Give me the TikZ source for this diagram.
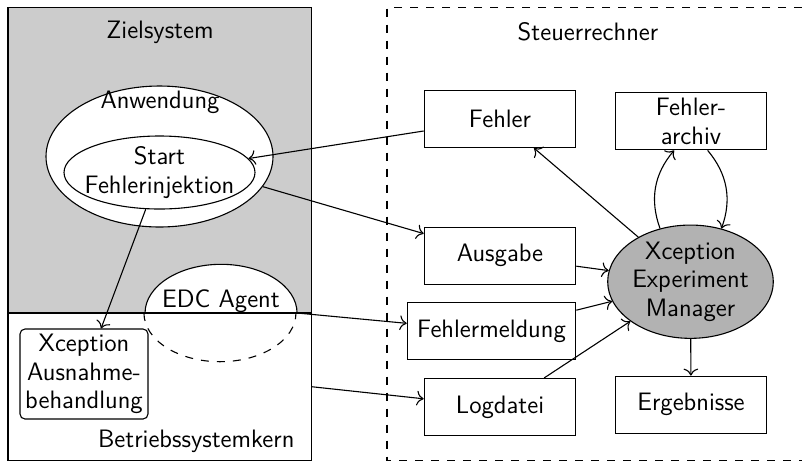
\documentclass[tikz,border=0pt]{standalone}
\usepackage{fontspec}
\usetikzlibrary{shapes.geometric,arrows.meta}
\begin{document}
\begin{tikzpicture}[x=0.5pt,y=-0.5pt, line width=0.55pt,
  >={To[scale=1.25]},
  every node/.style={font=\sffamily\fontsize{12.6}{14.2}\selectfont},
  box/.style={draw, rectangle, minimum width=75.75pt, minimum height=28.5pt, inner sep=0pt, align=center},
  ell/.style={draw, ellipse, inner sep=0pt, align=center},
  lbl/.style={inner sep=0pt, align=center},
  dsh/.style={dash pattern=on 4pt off 4pt},
  arr/.style={->},
]
\useasboundingbox (0,0) rectangle (802,462);
% Steuerrechner frame
\draw[dsh] (802,7.5) -- (387,7.5) -- (387,460.5) -- (802,460.5);
% Zielsystem panel
\node[draw, fill=gray!40, minimum width=151.75pt, minimum height=152.75pt, inner sep=0pt] (ziel) at (159.75,160.25) {};
\node[ellipse, minimum width=76pt, minimum height=48.7pt, inner sep=0pt] (edc) at (220.5,313) {};
\fill[white] (edc.east) arc[start angle=0, end angle=180, x radius=38pt, y radius=24.35pt];
\node[draw, minimum width=151.75pt, minimum height=73.75pt, inner sep=0pt] (kern) at (159.75,386.75) {};
\draw (edc.east) arc[start angle=0, end angle=180, x radius=38pt, y radius=24.35pt];
\draw[dsh] (edc.west) arc[start angle=180, end angle=360, x radius=38pt, y radius=24.35pt];
\node[lbl] (edctext) at (221,301) {EDC Agent};
\node[lbl] (zieltext) at (160,32) {Zielsystem};
\node[lbl, anchor=east] (kerntext) at (295,441) {Betriebssystemkern};
\node[lbl] (steuertext) at (588,32) {Steuerrechner};
% Anwendung
\node[ell, fill=white, minimum width=113.5pt, minimum height=70.5pt] (anw) at (159.5,156.5) {};
\node[lbl] (anwtext) at (160,102) {Anwendung};
\node[ell, minimum width=95.5pt, minimum height=36.5pt] (start) at (159.5,172.5) {};
\node[lbl] (starttext) at (159.5,172.5) {Start\\Fehlerinjektion};
\node[draw, rounded corners=2.5pt, minimum width=64pt, minimum height=45pt, inner sep=0pt, align=center] (ausn) at (84,374) {Xception\\Ausnahme-\\behandlung};
% Steuerrechner contents
\node[box] (fehler) at (500,119) {Fehler};
\node[box] (archiv) at (691,121.3) {Fehler-\\archiv};
\node[box] (ausgabe) at (500,255.8) {Ausgabe};
\node[box, minimum width=84.2pt] (fm) at (491.5,331.3) {Fehlermeldung};
\node[box] (log) at (500,407) {Logdatei};
\node[box] (erg) at (691,404.7) {Ergebnisse};
\node[ell, fill=gray!60, minimum width=82.8pt, minimum height=56.65pt] (xem) at (690.5,281.7) {Xception\\Experiment\\Manager};
% connectors
\draw[arr] (fehler) -- (start);
\draw[arr] (anw) -- (ausgabe);
\draw[arr] (start) -- (ausn);
\draw[arr] (edc.east) -- (fm);
\draw[arr] (kern.east) -- (log);
\draw[arr] (xem) -- (fehler);
\draw[arr] (ausgabe) -- (xem);
\draw[arr] (fm) -- (xem);
\draw[arr] (log) -- (xem);
\draw[arr] (xem) -- (erg);
\draw[arr] (xem) to[bend left=30] (archiv);
\draw[arr] (archiv) to[bend left=30] (xem);
\end{tikzpicture}
\end{document}
